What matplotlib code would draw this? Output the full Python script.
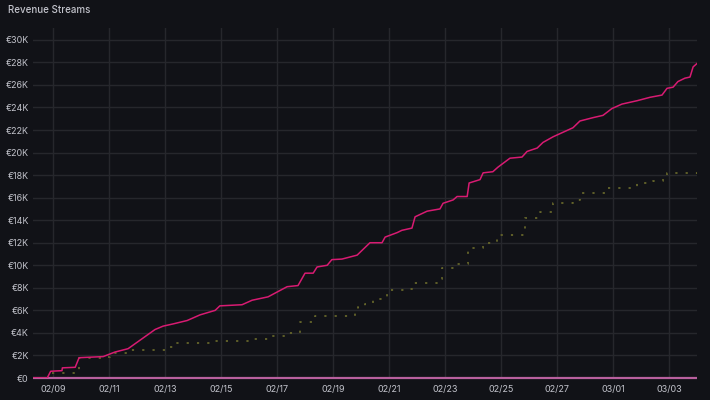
import numpy as np
import pandas as pd
import matplotlib
matplotlib.use("Agg")
import matplotlib.pyplot as plt
import matplotlib.dates as mdates
from matplotlib.ticker import FuncFormatter

### data (values in thousands of euros)
total_times = ["2025-02-08 06:50", "2025-02-08 19:00", "2025-02-08 22:00", "2025-02-09 07:40",
               "2025-02-09 08:00", "2025-02-09 19:00", "2025-02-09 22:20", "2025-02-10 19:00",
               "2025-02-11 05:00", "2025-02-11 16:20", "2025-02-12 15:25", "2025-02-12 22:20",
               "2025-02-13 07:00", "2025-02-13 19:00", "2025-02-14 06:00", "2025-02-14 19:00",
               "2025-02-14 23:00", "2025-02-15 18:00", "2025-02-16 02:40", "2025-02-16 16:20",
               "2025-02-17 08:40", "2025-02-17 18:00", "2025-02-18 00:00", "2025-02-18 07:00",
               "2025-02-18 10:20", "2025-02-18 19:00", "2025-02-18 23:00", "2025-02-19 07:40",
               "2025-02-19 20:40", "2025-02-20 07:40", "2025-02-20 18:00", "2025-02-20 20:40",
               "2025-02-21 07:00", "2025-02-21 11:00", "2025-02-21 19:40", "2025-02-21 22:20",
               "2025-02-22 08:40", "2025-02-22 19:40", "2025-02-22 22:20", "2025-02-23 07:00",
               "2025-02-23 10:20", "2025-02-23 19:00", "2025-02-23 20:40", "2025-02-24 06:00",
               "2025-02-24 08:40", "2025-02-24 17:00", "2025-02-24 21:20", "2025-02-25 07:40",
               "2025-02-25 18:00", "2025-02-25 22:20", "2025-02-26 07:00", "2025-02-26 12:00",
               "2025-02-26 20:40", "2025-02-27 13:40", "2025-02-27 19:40", "2025-02-28 07:00",
               "2025-02-28 15:25", "2025-02-28 23:00", "2025-03-01 07:40", "2025-03-01 20:40",
               "2025-03-02 07:40", "2025-03-02 18:00", "2025-03-02 22:20", "2025-03-03 03:30",
               "2025-03-03 07:40", "2025-03-03 13:40", "2025-03-03 18:00", "2025-03-03 20:40",
               "2025-03-04 00:00"]
total_vals = [0, 0, 0.6, 0.65, 0.9, 0.95, 1.8, 1.9, 2.3, 2.6, 4.3, 4.6, 4.8, 5.1, 5.6, 6.0,
              6.4, 6.5, 6.9, 7.2, 8.1, 8.2, 9.3, 9.3, 9.85, 10.0, 10.5, 10.55, 10.9, 12.0, 12.0,
              12.5, 12.9, 13.1, 13.3, 14.3, 14.8, 15.0, 15.5, 15.8, 16.1, 16.1, 17.3, 17.6, 18.2,
              18.3, 18.7, 19.5, 19.6, 20.1, 20.4, 20.9, 21.4, 22.2, 22.8, 23.1, 23.3, 23.9, 24.3,
              24.6, 24.9, 25.1, 25.7, 25.8, 26.3, 26.6, 26.7, 27.6, 27.9]

sub_times = ["2025-02-08 23:00", "2025-02-09 08:30", "2025-02-09 22:00", "2025-02-10 19:00",
             "2025-02-11 01:00", "2025-02-11 18:00", "2025-02-13 00:00", "2025-02-13 08:40",
             "2025-02-14 19:00", "2025-02-16 01:00", "2025-02-16 18:00", "2025-02-17 09:20",
             "2025-02-17 19:40", "2025-02-18 08:40", "2025-02-19 19:00", "2025-02-19 21:20",
             "2025-02-20 03:30", "2025-02-20 10:20", "2025-02-20 22:20", "2025-02-21 18:00",
             "2025-02-21 20:40", "2025-02-22 19:40", "2025-02-22 21:20", "2025-02-23 08:40",
             "2025-02-23 19:40", "2025-02-24 08:40", "2025-02-24 20:40", "2025-02-25 20:40",
             "2025-02-26 09:20", "2025-02-26 20:40", "2025-02-27 13:40", "2025-02-27 19:40",
             "2025-02-28 19:00", "2025-03-01 20:40", "2025-03-02 10:20", "2025-03-02 19:00",
             "2025-03-02 22:20", "2025-03-04 00:00"]
sub_vals = [0.4, 0.4, 1.8, 1.9, 2.2, 2.5, 2.75, 3.1, 3.3, 3.45, 3.7, 4.0, 5.0, 5.5, 5.85,
            6.3, 6.6, 7.0, 7.8, 7.9, 8.4, 8.8, 9.75, 10.1, 11.5, 12.0, 12.7, 14.2, 14.7, 15.5,
            15.8, 16.4, 16.9, 17.3, 17.5, 18.0, 18.2, 18.1]

base_times = ["2025-02-08 06:50", "2025-03-04 00:00"]
base_vals = [0, 0]

tick_days = pd.date_range("2025-02-09", "2025-03-03", freq="2D")
y_ticks = np.arange(0, 31, 2)

### style
bg = "#111217"
grid_c = "#26272c"
text_c = "#c2c3cb"

plt.rcParams['font.family'] = ['Inter', 'DejaVu Sans']

fig = plt.figure(figsize=(7.1, 4.0), dpi=100, facecolor=bg)
ax = fig.add_axes([33/710, 22/400, (697-33)/710, (378-28)/400])
ax.set_facecolor(bg)

t_total = pd.to_datetime(total_times)
t_sub = pd.to_datetime(sub_times)
t_base = pd.to_datetime(base_times)

ax.plot(t_base, base_vals, color="#b8609e", lw=1.6, zorder=3, solid_capstyle="butt", clip_on=False)
ax.plot(t_sub, sub_vals, color="#65652a", lw=1.3, ls=(0, (1.2, 4.5)),
        drawstyle="steps-post", zorder=2)
ax.plot(t_total, total_vals, color="#d81b72", lw=1.1, zorder=4)

ax.set_xlim(pd.Timestamp("2025-02-08 06:50"), pd.Timestamp("2025-03-04 00:00"))
ax.set_ylim(0, 31.05)

ax.set_xticks(tick_days)
ax.xaxis.set_major_formatter(mdates.DateFormatter("%m/%d"))
ax.set_yticks(y_ticks)
ax.yaxis.set_major_formatter(FuncFormatter(lambda v, p: "€0" if v == 0 else f"€{int(v)}K"))

ax.grid(True, color=grid_c, lw=1)
ax.set_axisbelow(True)
for s in ax.spines.values():
    s.set_visible(False)
ax.tick_params(length=0, colors=text_c, labelsize=6.5)
ax.tick_params(axis="x", pad=5)
ax.tick_params(axis="y", pad=3)

fig.text(8/710, 1 - 10/400, "Revenue Streams", color=text_c, fontsize=7,
         fontweight="medium", va="center", ha="left")

fig.savefig("out.png", dpi=100, facecolor=bg)
